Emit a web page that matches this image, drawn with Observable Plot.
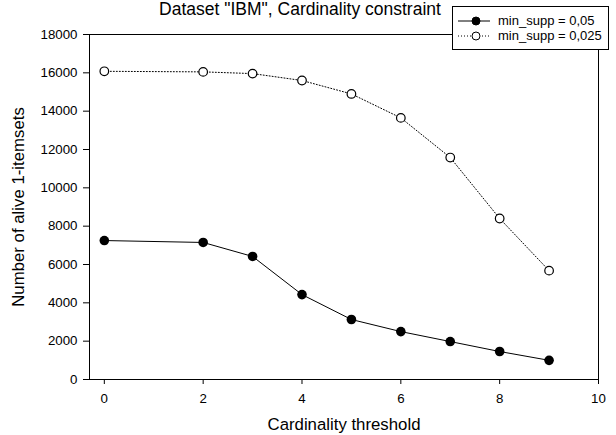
<!DOCTYPE html>
<html><head><meta charset="utf-8">
<script src="https://cdn.jsdelivr.net/npm/d3@7"></script>
<script src="https://cdn.jsdelivr.net/npm/@observablehq/plot@0.6"></script>
<style>
body{margin:0;background:#fff;font-family:"Liberation Sans",Arial,sans-serif;}
#wrap{position:relative;width:616px;height:435px;overflow:hidden;}
#title{position:absolute;left:0;width:600px;top:-1px;text-align:center;font-size:17.5px;line-height:20px;color:#000;white-space:nowrap;}
#legend{position:absolute;left:452px;top:6px;width:155px;height:42px;border:1px solid #000;background:#fff;font-size:13px;}
.row{position:absolute;left:5px;height:15px;display:flex;align-items:center;white-space:nowrap;}
.row span{margin-left:7px;}
</style></head>
<body><div id="wrap"><div id="chart"></div>
<div id="title">Dataset "IBM", Cardinality constraint</div>
<div id="legend"></div></div>
<script>
const thresholds = [0, 2, 3, 4, 5, 6, 7, 8, 9];
const supp005 = [7250, 7150, 6420, 4430, 3130, 2500, 1980, 1460, 1000];
const supp0025 = [16080, 16050, 15960, 15600, 14900, 13650, 11580, 8400, 5680];
const seriesNames = ["min_supp = 0,05", "min_supp = 0,025"];
const xTicks = [0, 2, 4, 6, 8, 10];
const yTicks = [0, 2000, 4000, 6000, 8000, 10000, 12000, 14000, 16000, 18000];

const s1 = thresholds.map((t, i) => ({x: t, y: supp005[i]}));
const s2 = thresholds.map((t, i) => ({x: t, y: supp0025[i]}));

const chart = Plot.plot({
  width: 616, height: 435,
  marginLeft: 89, marginRight: 18, marginTop: 34, marginBottom: 56,
  style: {fontFamily: "'Liberation Sans', Arial, sans-serif", fontSize: "13.3px", color: "#000", background: "#fff"},
  x: {domain: [-0.3, 10]},
  y: {domain: [0, 18000]},
  marks: [
    Plot.frame({stroke: "#000", strokeWidth: 1}),
    Plot.axisX({ticks: xTicks, tickSize: 5, tickPadding: 9, tickFormat: d => d, fontSize: 13.3,
      label: "Cardinality threshold", labelAnchor: "center", labelArrow: "none", labelOffset: 50}),
    Plot.axisY({ticks: yTicks, tickSize: 6, tickPadding: 6, tickFormat: d => String(d), fontSize: 13.3,
      label: "Number of alive 1-itemsets", labelAnchor: "center", labelArrow: "none", labelOffset: 77}),
    Plot.line(s2, {x: "x", y: "y", stroke: "#000", strokeWidth: 1, strokeDasharray: "1,2"}),
    Plot.dot(s2, {x: "x", y: "y", r: 4.3, fill: "#fff", stroke: "#000", strokeWidth: 1.2}),
    Plot.line(s1, {x: "x", y: "y", stroke: "#000", strokeWidth: 1}),
    Plot.dot(s1, {x: "x", y: "y", r: 4.8, fill: "#000", stroke: "none"})
  ]
});
chart.querySelectorAll("[aria-label='x-axis label'] text, [aria-label='y-axis label'] text").forEach(t => t.style.fontSize = "16.8px");
chart.querySelectorAll("[aria-label='x-axis label'], [aria-label='y-axis label']").forEach(g => g.setAttribute("font-size", "16.8"));
document.getElementById("chart").appendChild(chart);

const leg = document.getElementById("legend");
const styles = [{fill: "#000", dash: null}, {fill: "#fff", dash: "1,2"}];
seriesNames.forEach((name, i) => {
  const row = document.createElement("div");
  row.className = "row";
  row.style.top = (6 + i * 15) + "px";
  const st = styles[i];
  row.innerHTML = `<svg width="33" height="12"><line x1="0" x2="32" y1="6" y2="6" stroke="#000" ${st.dash ? `stroke-dasharray="${st.dash}"` : ""}/><circle cx="18" cy="6" r="4" fill="${st.fill}" stroke="#000"/></svg><span>${name}</span>`;
  leg.appendChild(row);
});
</script></body></html>
